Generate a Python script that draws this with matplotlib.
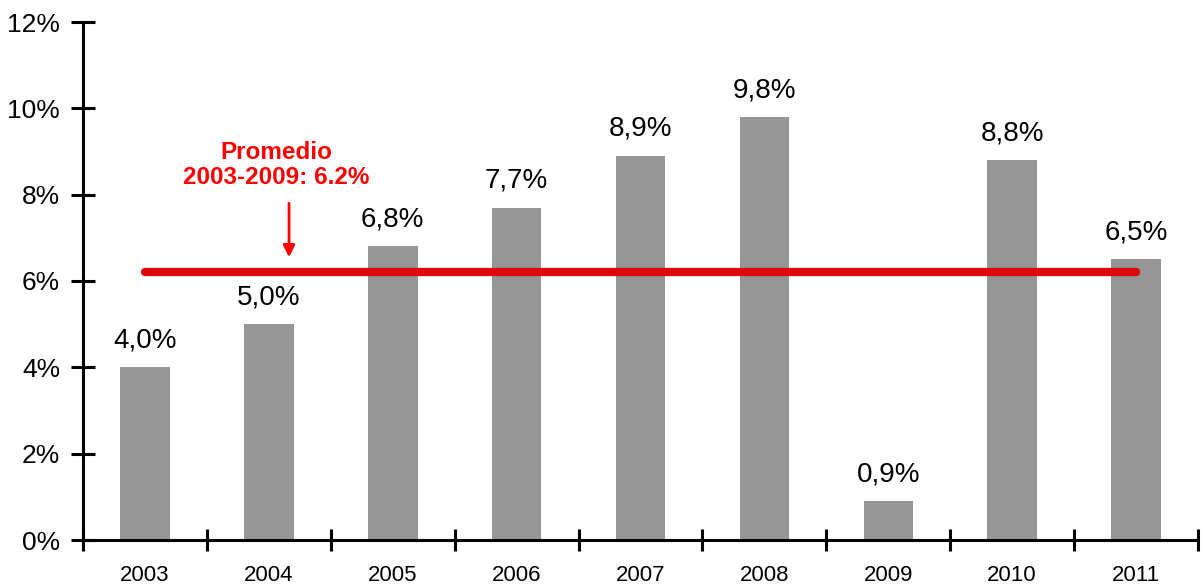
import matplotlib
matplotlib.use("Agg")
import matplotlib.pyplot as plt
import numpy as np

years = ["2003", "2004", "2005", "2006", "2007", "2008", "2009", "2010", "2011"]
values = [4.0, 5.0, 6.8, 7.7, 8.9, 9.8, 0.9, 8.8, 6.5]
labels = ["4,0%", "5,0%", "6,8%", "7,7%", "8,9%", "9,8%", "0,9%", "8,8%", "6,5%"]
average = 6.2
yticks = [0, 2, 4, 6, 8, 10, 12]
ytick_labels = ["0%", "2%", "4%", "6%", "8%", "10%", "12%"]

plt.rcParams['font.family'] = ['Liberation Sans', 'DejaVu Sans']

fig = plt.figure(figsize=(12.02, 5.87), dpi=100)
ax = fig.add_axes([83/1202, 1-540/587, (1198-83)/1202, (540-22)/587])

x = np.arange(len(years))
ax.bar(x, values, width=0.4, color="#969696", zorder=2)
for xi, v, lab in zip(x, values, labels):
    ax.annotate(lab, (xi, v), xytext=(0, 10), textcoords="offset points",
                ha="center", va="bottom", fontsize=20, color="black")

ax.plot([x[0], x[-1]], [average, average], color="#DD0808", lw=6,
        solid_capstyle="round", zorder=3)

ax.annotate("", xy=(1.163, 6.55), xytext=(1.163, 7.8),
            arrowprops=dict(arrowstyle="-|>,head_width=0.35,head_length=0.7",
                            color="#FF0000", lw=2, shrinkA=0, shrinkB=0))
ax.text(1.058, 8.69, "Promedio\n2003-2009: 6.2%", ha="center", va="center",
        fontsize=17.5, fontweight="bold", color="#FF0000", linespacing=1.1)

ax.set_xlim(-0.5, len(years) - 0.5)
ax.set_ylim(0, 12)
ax.set_yticks(yticks)
ax.set_yticklabels(ytick_labels, fontsize=19)
ax.set_xticks(x)
ax.set_xticklabels(years, fontsize=16)
ax.set_xticks(np.arange(-0.5, len(years)), minor=True)
ax.tick_params(axis="x", which="major", length=0, pad=18)
ax.tick_params(axis="x", which="minor", length=16, width=2.2, direction="inout")
ax.tick_params(axis="y", which="major", length=17, width=2.2, direction="inout", pad=8)

for s in ["top", "right"]:
    ax.spines[s].set_visible(False)
for s in ["left", "bottom"]:
    ax.spines[s].set_linewidth(2.2)

fig.savefig("out.png", dpi=100)
